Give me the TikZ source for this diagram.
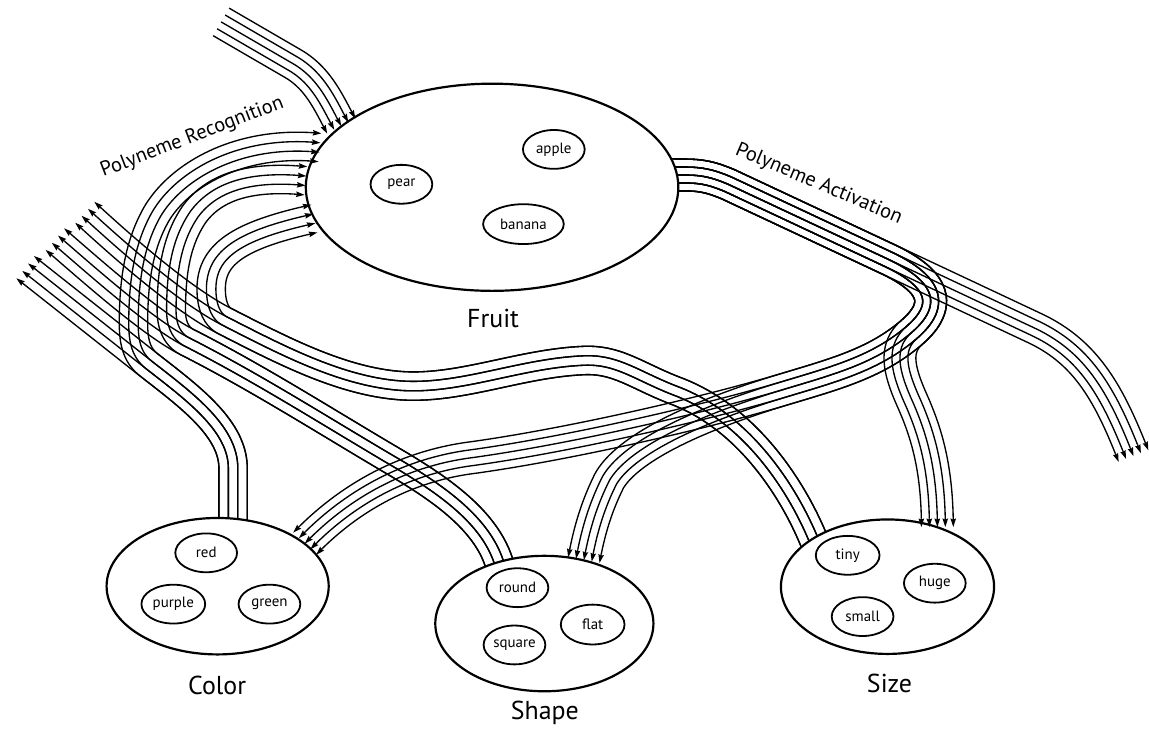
\documentclass[tikz,border=0pt]{standalone}
\usepackage{fontspec}
\setmainfont{PT Sans}
\usetikzlibrary{calc,arrows.meta,shapes.geometric,decorations.markings}
% coordinates of every lane at one mark
\newcommand\lanecoords[4]{%
  \foreach \j in {1,...,#2}{%
    \pgfmathsetmacro\off{(\j-(#2+1)/2)*#3}%
    \coordinate (#1-\j-#4) at (0pt,\off pt);}}
% a bundle of parallel lanes following a guide path: #1 name, #2 lanes, #3 spacing, #4 path
\newcommand\lanes[4]{%
  \xdef\lastseq{0}%
  \path[decorate,decoration={markings,
     mark=at position 0 with {\lanecoords{#1}{#2}{#3}{start}},
     mark=between positions 0 and 1 step 3pt with {%
        \pgfmathtruncatemacro\seqn{\lastseq+1}\xdef\lastseq{\seqn}%
        \lanecoords{#1}{#2}{#3}{\seqn}},
     mark=at position -0.3pt with {\lanecoords{#1}{#2}{#3}{end}}}] #4;
  \pgfmathtruncatemacro\lastm{\lastseq-3}%
  \expandafter\xdef\csname lm#1\endcsname{\lastm}%
  \foreach \i in {1,...,#2}{%
    \draw[lane] (#1-\i-start) \foreach \k in {1,...,\lastm}{ -- (#1-\i-\k)};
  }}
% arrow heads at the ends of the lanes of bundle #1 (#2 lanes)
\newcommand\lanearrows[2]{%
  \edef\lmtmp{\csname lm#1\endcsname}%
  \foreach \i in {1,...,#2}{\draw[arrowlane] (#1-\i-\lmtmp) -- (#1-\i-end);}}
\begin{document}
\begin{tikzpicture}[x=1pt,y=-1pt,
  lane/.style={line width=1.35pt,line join=round},
  arrowlane/.style={line width=1.35pt,-{Stealth[length=8.5pt,width=5.4pt,inset=1pt]}},
  bigell/.style={draw,line width=2.2pt,fill=white},
  smallell/.style={ellipse,draw,line width=1.8pt,inner sep=0pt,outer sep=0pt,
    minimum width=62pt,minimum height=39pt,font=\fontsize{15}{15}\selectfont},
  biglabel/.style={font=\fontsize{26}{26}\selectfont},
  polylabel/.style={font=\fontsize{20.5}{21}\selectfont},
  region/.style={ellipse,inner sep=0pt,outer sep=0pt}
]
\fill[white] (0,0) rectangle (1149,733);
% regions (anchors only; drawn later)
\node[region,minimum width=374pt,minimum height=208pt] (fruit) at (494,188) {};
\node[region,minimum width=223pt,minimum height=137pt] (color) at (218.5,588.5) {};
\node[region,minimum width=219pt,minimum height=136pt] (shape) at (546.5,626) {};
\node[region,minimum width=214pt,minimum height=135pt] (size) at (891,589) {};
% junctions and free ends
\coordinate (j1) at (149,366);
\coordinate (j2) at (187,343);
\coordinate (j3) at (225,322);
\coordinate (hp) at (915,334);
\coordinate (ks) at (790,390);
\coordinate (cxe) at (25,268);
\coordinate (sxe) at (55,240);
\coordinate (zxe) at (85,213);
\coordinate (rte) at (1138,458);
\coordinate (tin) at (222,22);

% input from above
\lanes{tn}{5}{8}{(tin) -- (296,65) .. controls (320,80) and (330,103) .. (fruit.158)}

% Color
\lanes{cx}{4}{9.5}{(234,545) -- (234,470) .. controls (234,430) and (190,398) .. (j1) -- (cxe)}
\lanes{cr}{4}{9.5}{(234,545) -- (234,470) .. controls (234,430) and (190,398) .. (j1) .. controls (138,357) and (134,345) .. (134,325) .. controls (134,280) and (140,245) .. (157,215) .. controls (180,176) and (240,140) .. (fruit.167)}
% Shape
\lanes{sx}{4}{9.5}{(507,582) -- (500,562) .. controls (485,520) and (440,490) .. (400,466) .. controls (330,425) and (260,380) .. (j2) .. controls (150,324) and (90,270) .. (sxe)}
\lanes{sr}{4}{9.5}{(507,582) -- (500,562) .. controls (485,520) and (440,490) .. (400,466) .. controls (330,425) and (260,380) .. (j2) .. controls (178,338) and (172,328) .. (172,312) .. controls (172,270) and (178,240) .. (195,215) .. controls (215,188) and (250,176) .. (fruit.178)}
% Size
\lanes{zx}{4}{9.5}{(826,563) -- (816,540) .. controls (795,490) and (750,420) .. (680,393) .. controls (640,378) and (620,360) .. (585,362) .. controls (520,365) and (460,392) .. (400,387) .. controls (340,382) and (280,350) .. (j3) .. controls (180,299) and (120,245) .. (zxe)}
\lanes{zr}{4}{9.5}{(826,563) -- (816,540) .. controls (795,490) and (750,420) .. (680,393) .. controls (640,378) and (620,360) .. (585,362) .. controls (520,365) and (460,392) .. (400,387) .. controls (340,382) and (280,350) .. (j3) .. controls (216,317) and (212,305) .. (212,290) .. controls (212,255) and (240,236) .. (fruit.190)}

% Activation
\lanes{ar}{5}{8}{(660,175) -- (697,176) .. controls (710,177) and (719,180) .. (731,185) -- (890,259.5) -- (1040,330) .. controls (1090,354) and (1113,394) .. (rte)}
\lanes{ac}{5}{8}{(660,175) -- (697,176) .. controls (710,177) and (719,180) .. (731,185) -- (890,259.5) .. controls (935,280.5) and (950,304) .. (hp) .. controls (880,364) and (840,375) .. (ks) .. controls (700,417) and (560,448) .. (470,460) .. controls (400,470) and (345,505) .. (color.26)}
\lanes{as}{5}{8}{(660,175) -- (697,176) .. controls (710,177) and (719,180) .. (731,185) -- (890,259.5) .. controls (935,280.5) and (950,304) .. (hp) .. controls (880,364) and (840,375) .. (ks) .. controls (690,420) and (630,452) .. (612,482) .. controls (600,506) and (592,530) .. (shape.58)}
\lanes{az}{5}{8}{(660,175) -- (697,176) .. controls (710,177) and (719,180) .. (731,185) -- (890,259.5) .. controls (935,280.5) and (950,304) .. (hp) .. controls (897,350) and (902,372) .. (917,405) .. controls (930,435) and (941,470) .. (size.50)}

% the agencies
\draw[bigell] (fruit.center) ellipse [x radius=187, y radius=104];
\draw[bigell] (color.center) ellipse [x radius=111.5, y radius=68.5];
\draw[bigell] (shape.center) ellipse [x radius=109.5, y radius=68];
\draw[bigell] (size.center) ellipse [x radius=107, y radius=67.5];

% arrow heads
\lanearrows{tn}{5}
\lanearrows{cx}{4}
\lanearrows{cr}{4}
\lanearrows{sx}{4}
\lanearrows{sr}{4}
\lanearrows{zx}{4}
\lanearrows{zr}{4}
\lanearrows{ar}{5}
\lanearrows{ac}{5}
\lanearrows{as}{5}
\lanearrows{az}{5}

% members
\node[smallell] (pear) at (403,185) {pear};
\node[smallell] (apple) at (556,150) {apple};
\node[smallell,minimum width=81pt,minimum height=40pt] (banana) at (525.5,225) {banana};
\node[smallell] (red) at (207,555) {red};
\node[smallell,minimum width=64pt] (purple) at (174,606.5) {purple};
\node[smallell] (green) at (270.5,606.5) {green};
\node[smallell] (round) at (519.5,590) {round};
\node[smallell,minimum width=64pt,minimum height=40pt] (flat) at (595,627) {flat};
\node[smallell] (square) at (516.5,647.5) {square};
\node[smallell,minimum width=64pt] (tiny) at (851,557.5) {tiny};
\node[smallell] (huge) at (938.5,585.5) {huge};
\node[smallell] (small) at (866,619) {small};

% labels
\node[biglabel] (fruitlabel) at (495,320) {Fruit};
\node[biglabel] (colorlabel) at (218,688) {Color};
\node[biglabel] (shapelabel) at (547,716) {Shape};
\node[biglabel] (sizelabel) at (893,686) {Size};
\node[polylabel,rotate=21] (reclabel) at (193,138) {Polyneme Recognition};
\node[polylabel,rotate=-23] (actlabel) at (822,185) {Polyneme Activation};
\end{tikzpicture}
\end{document}
